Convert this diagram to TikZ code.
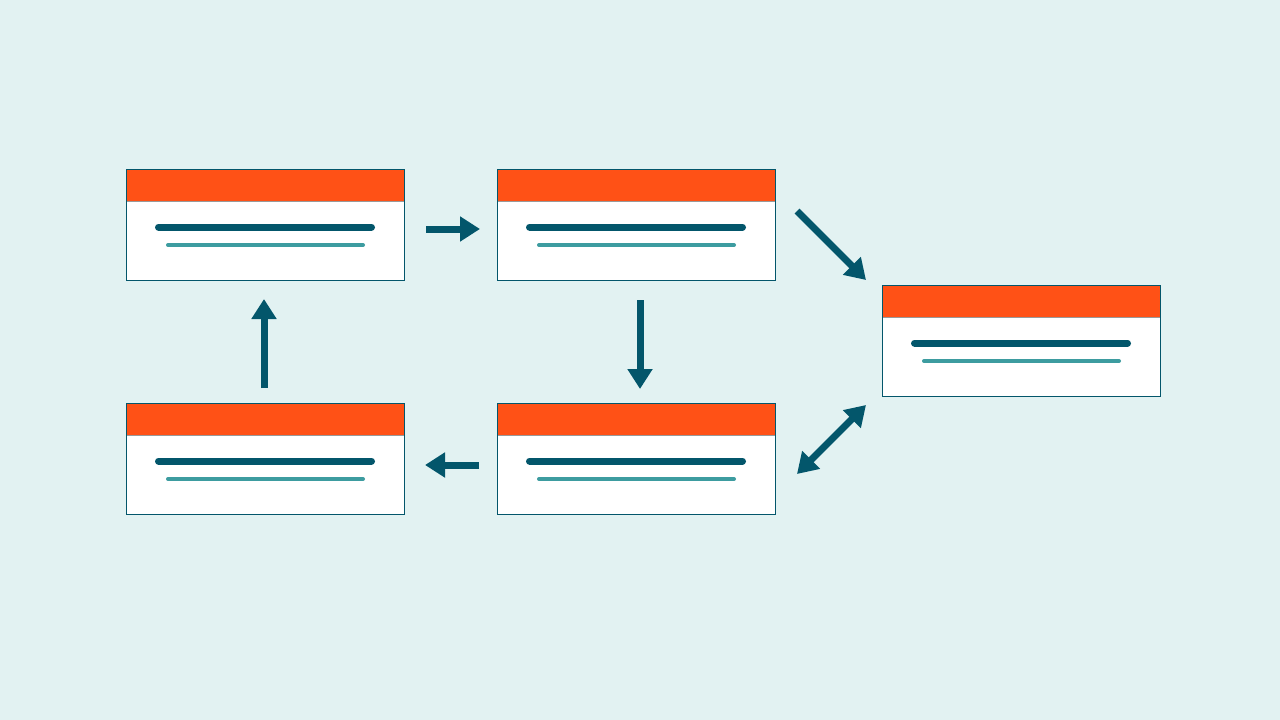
\documentclass[tikz,border=0pt]{standalone}
\usetikzlibrary{arrows.meta}
\definecolor{bgc}{HTML}{E2F2F2}
\definecolor{hdr}{HTML}{FF5116}
\definecolor{dteal}{HTML}{03566B}
\definecolor{lteal}{HTML}{3D9CA0}
\begin{document}
\begin{tikzpicture}[x=1pt,y=-1pt,
  card/.style={draw=none,fill=white,rectangle,minimum width=278pt,minimum height=111pt,inner sep=0pt,outer sep=0pt,anchor=north west},
  arr/.style={draw=dteal,line width=7pt,-{Triangle[width=24pt,length=20pt]}},
  darr/.style={draw=dteal,line width=7pt,{Triangle[width=24pt,length=20pt]}-{Triangle[width=24pt,length=20pt]}}]
\fill[bgc] (0,0) rectangle (1280,720);
\useasboundingbox (0,0) rectangle (1280,720);
\foreach \n/\x/\y in {b1/126/169, b2/497/169, b3/882/285, b4/126/403, b5/497/403}{
  \node[card] (\n) at (\x,\y) {};
  \fill[hdr] (\n.north west) rectangle ([yshift=-32pt]\n.north east);
  \draw[gray!80,line width=0.8pt] ([yshift=-32pt]\n.north west) -- ([yshift=-32pt]\n.north east);
  \draw[dteal,line width=0.9pt] (\n.north west) rectangle (\n.south east);
  \draw[dteal,line width=7pt,line cap=round] ([xshift=32.5pt,yshift=-58pt]\n.north west) -- ([xshift=-32.5pt,yshift=-58pt]\n.north east);
  \draw[lteal,line width=4pt,line cap=round] ([xshift=42pt,yshift=-76pt]\n.north west) -- ([xshift=-41pt,yshift=-76pt]\n.north east);
}
\coordinate (a1s) at (426,229); \coordinate (a1e) at (480,229);
\coordinate (a2s) at (640,300); \coordinate (a2e) at (640,389);
\coordinate (a3s) at (479,465); \coordinate (a3e) at (425,465);
\coordinate (a4s) at (264,388); \coordinate (a4e) at (264,299);
\coordinate (a5s) at (797,211); \coordinate (a5e) at (866,280);
\coordinate (a6s) at (797,474); \coordinate (a6e) at (866,405);
\draw[arr] (a1s) -- (a1e);
\draw[arr] (a2s) -- (a2e);
\draw[arr] (a3s) -- (a3e);
\draw[arr] (a4s) -- (a4e);
\draw[arr] (a5s) -- (a5e);
\draw[darr] (a6s) -- (a6e);
\end{tikzpicture}
\end{document}
